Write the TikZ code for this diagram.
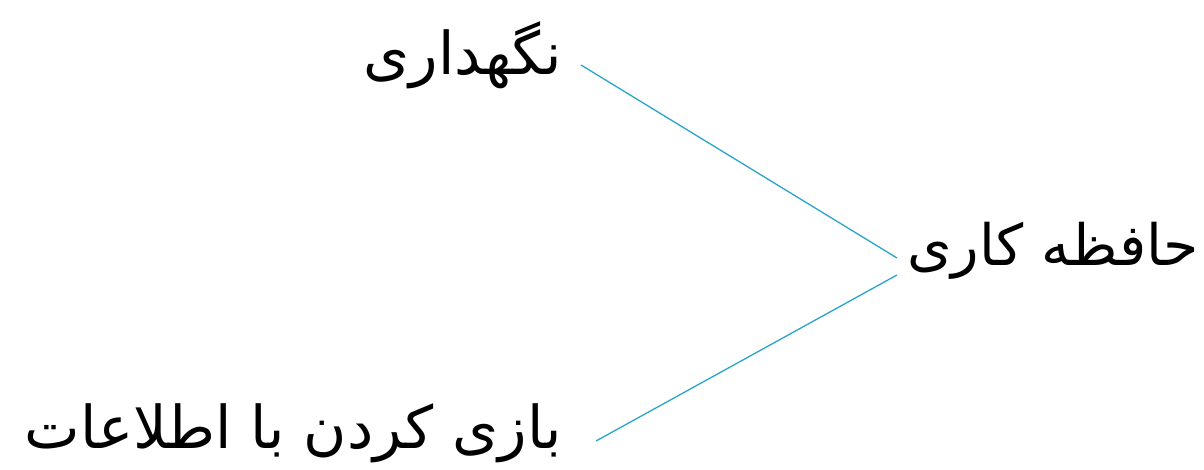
\documentclass[tikz,border=0pt]{standalone}
\usepackage{fontspec}
\newfontfamily\arabicfont[Script=Arabic]{DejaVu Sans}
\TeXXeTstate=1
\definecolor{linkc}{RGB}{40,165,200}
\begin{document}
\begin{tikzpicture}[x=1pt,y=1pt,
  lbl/.style={inner sep=0pt,font=\arabicfont\fontsize{59}{70}\selectfont},
  link/.style={draw=linkc,line width=1.3pt}]
\useasboundingbox (0,0) rectangle (1204,469);
\node[lbl,anchor=east] (keep) at (562,414) {\beginR نگهداری\endR};
\node[lbl,anchor=east] (play) at (562,36) {\beginR بازی کردن با اطلاعات\endR};
\node[lbl,anchor=west,font=\arabicfont\fontsize{57}{68}\selectfont] (wm) at (907,218) {\beginR حافظه کاری\endR};
\coordinate (k1) at (581,404);
\coordinate (p1) at (596,28);
\coordinate (w1) at (897,211);
\coordinate (w2) at (897,194);
\draw[link] (k1) -- (w1);
\draw[link] (p1) -- (w2);
\end{tikzpicture}
\end{document}
